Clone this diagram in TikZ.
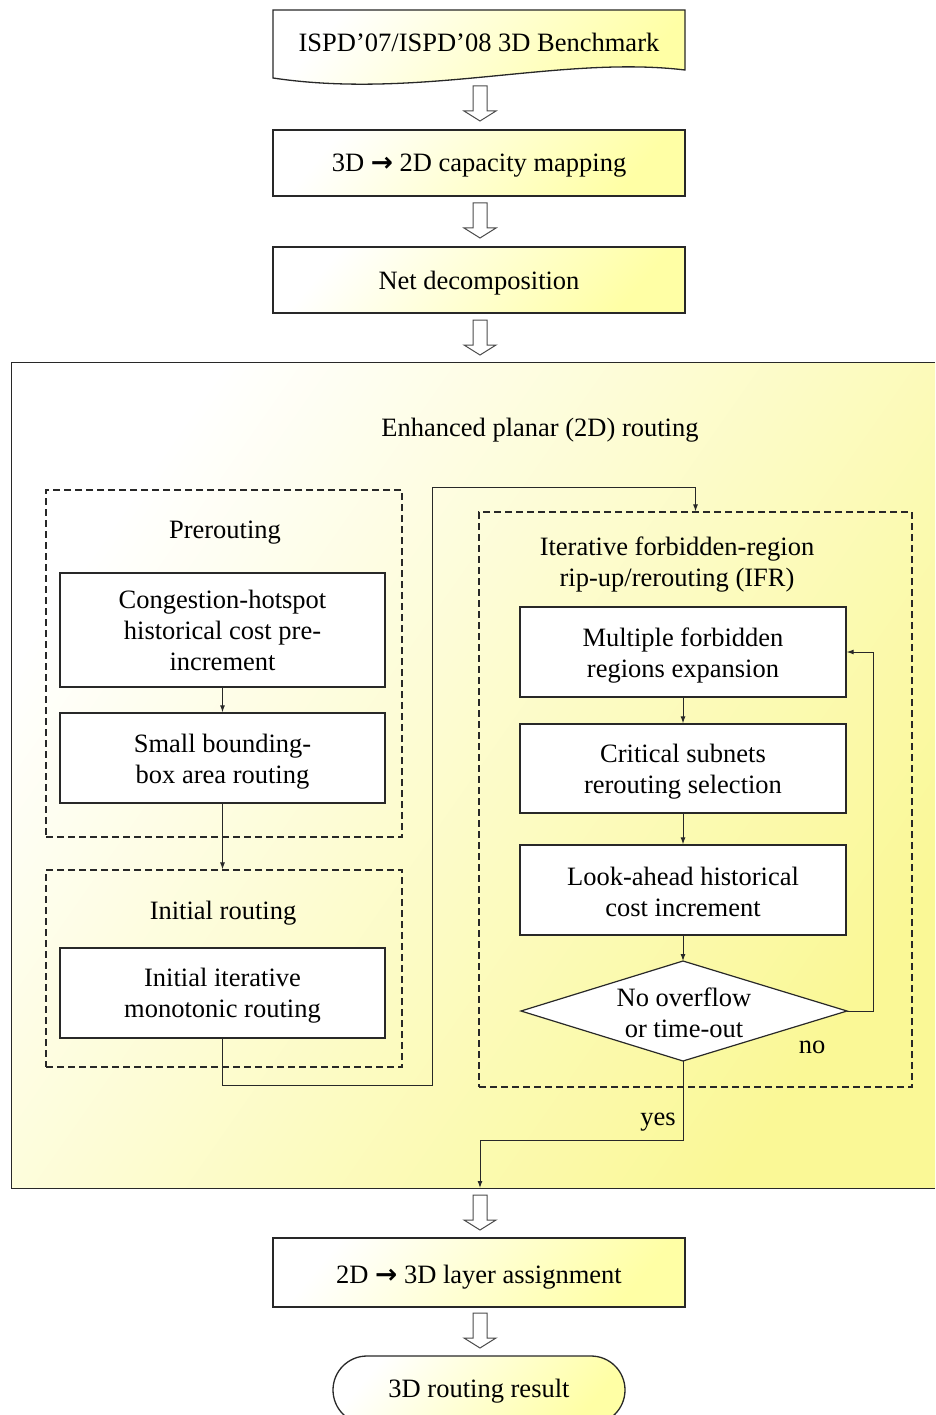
\documentclass[tikz,border=0pt]{standalone}
\usepackage{fontspec}
\setmainfont{Liberation Serif}
\newfontfamily\arrfont{DejaVu Sans}
\usetikzlibrary{arrows.meta,calc}
\definecolor{boxyel}{RGB}{255,255,165}
\definecolor{bigyel}{RGB}{250,248,150}
\definecolor{linec}{RGB}{40,40,40}
\tikzset{
  base/.style={font=\fontsize{26.5}{31}\selectfont, align=center, text=black},
  ybox/.style={draw=linec, line width=1.3pt, inner sep=0pt, top color=white, bottom color=boxyel, shading angle=50},
  wbox/.style={draw=linec, line width=1.3pt, fill=white, inner sep=0pt},
  dbox/.style={draw=linec, line width=1.2pt, dash pattern=on 7pt off 4pt, inner sep=0pt},
  conn/.style={draw=linec, line width=1pt, -{Latex[length=7pt,width=5pt]}},
  harrowst/.style={draw=black!70, line width=1pt, fill=white, line join=miter},
}
\newcommand\hollowarr[3]{\draw[harrowst] (473,#1) -- (487,#1) -- (487,#2) -- (496,#2) -- (480,#3) -- (464,#2) -- (473,#2) -- cycle;}
\begin{document}
\begin{tikzpicture}[x=1pt,y=-1pt]
\useasboundingbox (0,0) rectangle (935,1415);
\fill[white] (0,0) rectangle (935,1415);

% top document shape
\shade[draw=linec, line width=1.3pt, top color=white, bottom color=boxyel, shading angle=50]
  (273,10) -- (685,10) -- (685,70) .. controls (560,55) and (420,100) .. (273,78) -- cycle;
\node[base] (bench) at (479,42) {ISPD’07/ISPD’08 3D Benchmark};
\hollowarr{86}{111}{121}

\node[ybox, minimum width=412pt, minimum height=66pt] (cap) at (479,163) {};
\node[base] (capT) at (479,166) {3D {\arrfont\bfseries →} 2D capacity mapping};
\hollowarr{203}{228}{238}

\node[ybox, minimum width=412pt, minimum height=66pt] (net) at (479,280) {};
\node[base] (netT) at (479,283) {Net decomposition};
\hollowarr{320}{345}{355}

% big enclosing box
\node[minimum width=923pt, minimum height=825pt, inner sep=0pt, top color=white, bottom color=bigyel, shading angle=55] (big) at (473.5,775.5) {};
\draw[linec, line width=1.3pt] (big.north east) -- (big.north west) -- (big.south west) -- (big.south east);
\node[base] (title) at (540,430) {Enhanced planar (2D) routing};

% prerouting
\node[dbox, minimum width=356pt, minimum height=347pt] (pre) at (224,663.5) {};
\node[base] (prelab) at (225,533) {Prerouting};
\node[wbox, minimum width=325pt, minimum height=114pt] (cong) at (222.5,630) {};
\node[base] (congT) at (222.5,630.5) {Congestion-hotspot\\historical cost pre-\\increment};
\node[wbox, minimum width=325pt, minimum height=90pt] (small) at (222.5,758) {};
\node[base] (smallT) at (222.5,762) {Small bounding-\\box area routing};

% initial routing
\node[dbox, minimum width=356pt, minimum height=197pt] (init) at (224,968.5) {};
\node[base] (initlab) at (223,913) {Initial routing};
\node[wbox, minimum width=325pt, minimum height=90pt] (iim) at (222.5,993) {};
\node[base] (iimT) at (222.5,996) {Initial iterative\\monotonic routing};

% IFR
\node[dbox, minimum width=433pt, minimum height=575pt] (ifr) at (695.5,799.5) {};
\node[base] (ifrlab) at (677,565) {Iterative forbidden-region\\rip-up/rerouting (IFR)};
\node[wbox, minimum width=326pt, minimum height=90pt] (mfr) at (683,652) {};
\node[base] (mfrT) at (683,656) {Multiple forbidden\\regions expansion};
\node[wbox, minimum width=326pt, minimum height=89pt] (crit) at (683,768.5) {};
\node[base] (critT) at (683,772) {Critical subnets\\rerouting selection};
\node[wbox, minimum width=326pt, minimum height=90pt] (look) at (683,890) {};
\node[base] (lookT) at (683,892) {Look-ahead historical\\cost increment};

% decision diamond
\coordinate (diaT) at (683,961);
\coordinate (diaB) at (683,1061);
\coordinate (diaL) at (521,1011);
\coordinate (diaR) at (847,1011);
\draw[linec, line width=1.2pt, fill=white] (diaT) -- (diaR) -- (diaB) -- (diaL) -- cycle;
\node[base] (dia) at (684,1013) {No overflow\\or time-out};
\node[base] (nolab) at (812,1047) {no};
\node[base] (yeslab) at (658,1122) {yes};

% connectors
\draw[conn] (cong.south) -- (small.north);
\draw[conn] (small.south) -- (small.south |- init.north);
\draw[conn] (iim.south) -- (222.5,1085) -- (432,1085) -- (432,487) -- (ifr.north |- 0,487) -- (ifr.north);
\draw[conn] (mfr.south) -- (crit.north);
\draw[conn] (crit.south) -- (look.north);
\draw[conn] (look.south) -- (diaT);
\draw[conn] (diaR) -- (873,1011) -- (873,652) -- (mfr.east);
\draw[conn] (diaB) -- (683,1140) -- (480,1140) -- (480,1188);

\hollowarr{1195}{1220}{1230}
\node[ybox, minimum width=412pt, minimum height=69pt] (lay) at (479,1272.5) {};
\node[base] (layT) at (479,1277) {2D {\arrfont\bfseries →} 3D layer assignment};
\hollowarr{1313}{1338}{1348}
\node[ybox, minimum width=292pt, minimum height=68pt, rounded corners=34pt] (res) at (479,1390) {};
\node[base] (resT) at (479,1391) {3D routing result};
\end{tikzpicture}
\end{document}
